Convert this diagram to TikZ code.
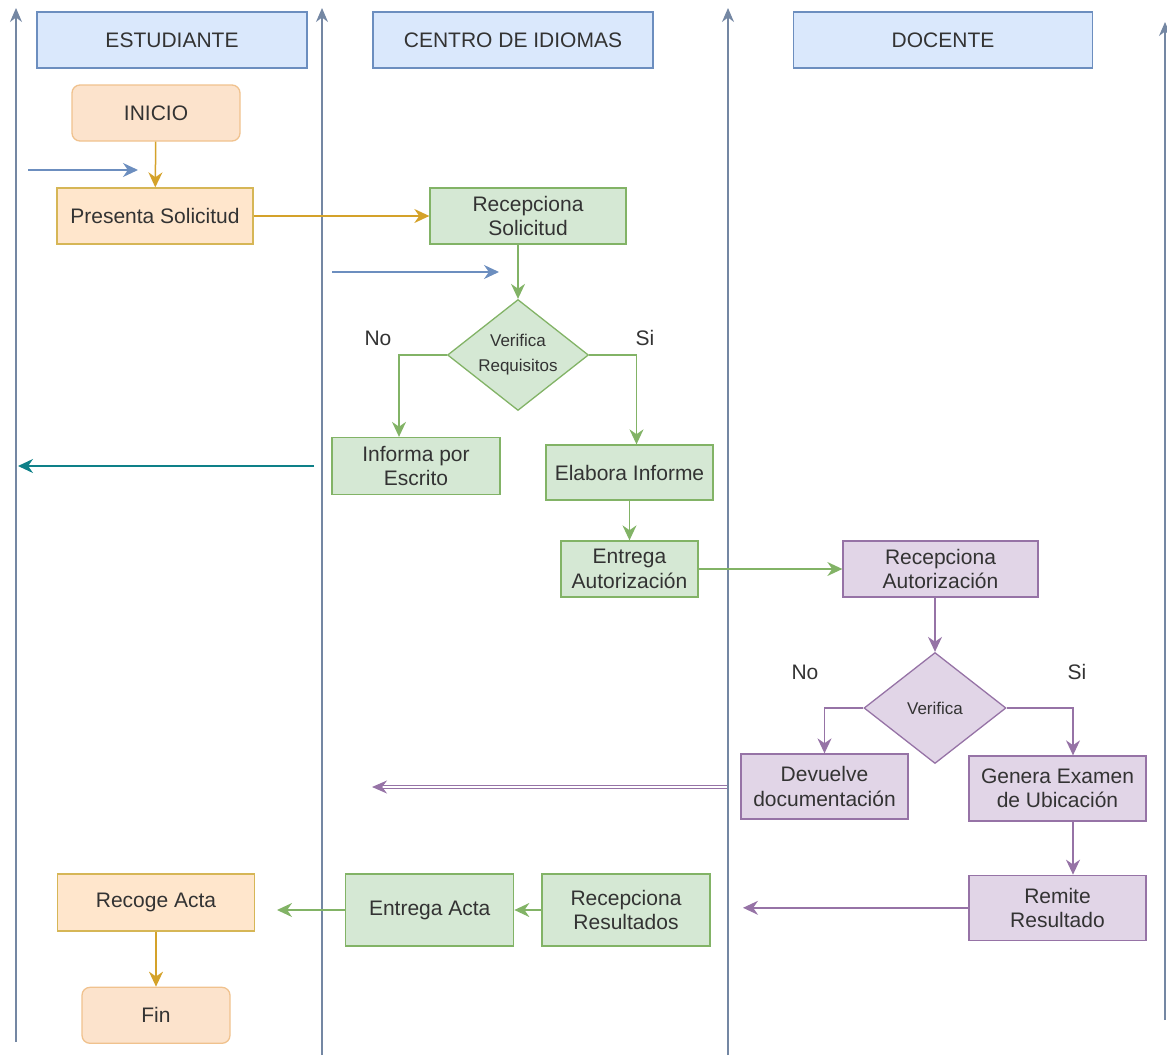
\documentclass[tikz,border=0pt]{standalone}
\usepackage{fontspec}
\setmainfont{Liberation Sans}
\usetikzlibrary{shapes.geometric, arrows.meta, positioning}
\definecolor{lanefill}{HTML}{DAE8FC}
\definecolor{lanedraw}{HTML}{6C8EBF}
\definecolor{laneline}{HTML}{7487A3}
\definecolor{estfill}{HTML}{FFE6CC}
\definecolor{estdraw}{HTML}{D6B656}
\definecolor{inifill}{HTML}{FCE3CC}
\definecolor{inidraw}{HTML}{F0C28E}
\definecolor{estarrow}{HTML}{D4A22A}
\definecolor{cenfill}{HTML}{D5E8D4}
\definecolor{cendraw}{HTML}{82B366}
\definecolor{docfill}{HTML}{E1D5E7}
\definecolor{docdraw}{HTML}{9673A6}
\definecolor{tealarrow}{HTML}{0E8088}
\definecolor{txt}{HTML}{333333}

\begin{document}
\begin{tikzpicture}[
    x=1pt, y=-1pt,
    every node/.style={text=txt, font=\fontsize{21}{24.5}\selectfont},
    lanehead/.style={rectangle, draw=lanedraw, fill=lanefill, line width=1.5pt,
                     minimum height=56pt, align=center},
    lane/.style={-{Stealth[length=14pt,width=12pt]}, draw=laneline, line width=1.5pt},
    estbox/.style={rectangle, draw=estdraw, fill=estfill, line width=1.3pt,
                   minimum height=56pt, align=center},
    estend/.style={estbox, draw=inidraw, fill=inifill, rounded corners=8pt},
    cenbox/.style={rectangle, draw=cendraw, fill=cenfill, line width=1.3pt,
                   minimum height=56pt, align=center},
    docbox/.style={rectangle, draw=docdraw, fill=docfill, line width=1.3pt,
                   minimum height=56pt, align=center},
    decision/.style={diamond, aspect=1.27, inner sep=0pt, line width=1.3pt, align=center,
                     font=\fontsize{17}{25}\selectfont},
    flow/.style={-{Stealth[length=15pt,width=14pt]}, line width=1.5pt},
    docdouble/.style={-{Stealth[length=15pt,width=13pt]}, draw=docdraw, line width=1.2pt,
                      double=white, double distance=2.5pt}
]
    \useasboundingbox (0,0) rectangle (1167,1055);

    % Lanes
    \foreach \x/\b/\t in {16/1042/8, 322/1055/8, 728/1055/8, 1165/1020/22}
        \draw[lane] (\x,\b) -- (\x,\t);

    \node[lanehead, minimum width=270pt] (hEst) at (172,40) {ESTUDIANTE};
    \node[lanehead, minimum width=280pt] (hCen) at (513,40) {CENTRO DE IDIOMAS};
    \node[lanehead, minimum width=299pt] (hDoc) at (943,40) {DOCENTE};

    % Estudiante
    \node[estend, minimum width=168pt] (inicio) at (156,113) {INICIO};
    \node[estbox, minimum width=196pt] (presenta) at (155,216) {Presenta Solicitud};
    \node[estbox, minimum width=197pt, minimum height=57pt] (recoge) at (156,902.5) {Recoge Acta};
    \node[estend, minimum width=148pt, below=55pt of recoge] (fin) {Fin};

    % Centro de idiomas
    \node[cenbox, minimum width=196pt] (recSol) at (528,216) {Recepciona\\Solicitud};
    \node[decision, draw=cendraw, fill=cenfill, minimum width=141pt, minimum height=111pt]
        (verReq) at (518,355) {Verifica\\Requisitos};
    \node[cenbox, minimum width=168pt, minimum height=57pt] (informa) at (416,466) {Informa por\\Escrito};
    \node[cenbox, minimum width=167pt, minimum height=55pt] (elabora) at (629.5,472.5) {Elabora Informe};
    \node[cenbox, minimum width=137pt] (entAut) at (629.5,569) {Entrega\\Autorización};
    \node[cenbox, minimum width=168pt, minimum height=72pt] (recRes) at (626,910) {Recepciona\\Resultados};
    \node[cenbox, minimum width=168pt, minimum height=72pt, left=27pt of recRes] (entActa) {Entrega Acta};

    % Docente
    \node[docbox, minimum width=195pt] (recAut) at (940.5,569) {Recepciona\\Autorización};
    \node[decision, draw=docdraw, fill=docfill, minimum width=142pt, minimum height=111pt]
        (verif) at (935,708) {Verifica};
    \node[docbox, minimum width=167pt, minimum height=65pt] (devuelve) at (824.5,786.5) {Devuelve\\documentación};
    \node[docbox, minimum width=177pt, minimum height=65pt] (genera) at (1057.5,788.5) {Genera Examen\\de Ubicación};
    \node[docbox, minimum width=177pt, minimum height=65pt, below=53pt of genera] (remite) {Remite\\Resultado};

    % Labels
    \node (noReq) at (378,338) {No};
    \node (siReq) at (645,338) {Si};
    \node (noVer) at (805,672) {No};
    \node (siVer) at (1077,672) {Si};

    % Free ends
    \coordinate (inEstA) at (28,170);
    \coordinate (inEstB) at (138,170);
    \coordinate (inCenA) at (332,272);
    \coordinate (inCenB) at (499,272);
    \coordinate (retA) at (314,466);
    \coordinate (retB) at (18,466);
    \coordinate (devA) at (727,787);
    \coordinate (devB) at (372,787);
    \coordinate (remEnd) at (743,907);
    \coordinate (actaEnd) at (277,910);

    % Arrows
    \draw[flow, estarrow] (inicio) -- (presenta);
    \draw[flow, estarrow] (presenta) -- (recSol);
    \draw[flow, lanedraw] (inEstA) -- (inEstB);
    \draw[flow, lanedraw] (inCenA) -- (inCenB);
    \draw[flow, cendraw] (recSol.south -| verReq.north) -- (verReq.north);
    \draw[flow, cendraw] (verReq.west) -| ([xshift=-17pt]informa.north);
    \draw[flow, cendraw] (verReq.east) -| ([xshift=7pt]elabora.north);
    \draw[flow, tealarrow] (retA) -- (retB);
    \draw[flow, cendraw] (elabora) -- (entAut);
    \draw[flow, cendraw] (entAut) -- (recAut);
    \draw[flow, docdraw] (recAut.south -| verif.north) -- (verif.north);
    \draw[flow, docdraw] (verif.west) -| (devuelve.north);
    \draw[flow, docdraw] (verif.east) -| ([xshift=15.5pt]genera.north);
    \draw[docdouble] (devA) -- (devB);
    \draw[flow, docdraw] ([xshift=15.5pt]genera.south) -- ([xshift=15.5pt]remite.north);
    \draw[flow, docdraw] (remite.west) -- (remite.west -| remEnd);
    \draw[flow, cendraw] (recRes) -- (entActa);
    \draw[flow, cendraw] (entActa) -- (actaEnd);
    \draw[flow, estarrow] (recoge) -- (fin);
\end{tikzpicture}
\end{document}
